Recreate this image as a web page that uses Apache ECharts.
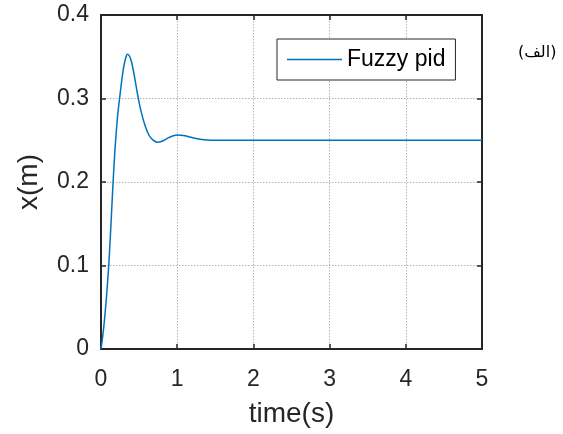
<!DOCTYPE html>
<html>
<head>
<meta charset="utf-8">
<script src="https://cdn.jsdelivr.net/npm/echarts@6/dist/echarts.min.js"></script>
<style>
  html, body { margin: 0; padding: 0; background: #fff; }
  #chart { width: 563px; height: 434px; }
</style>
</head>
<body>
<div id="chart"></div>
<script>
// Step response of the fuzzy PID controller: position x (m) over time (s)
const timeS = [0, 0.025, 0.05, 0.075, 0.1, 0.12, 0.14, 0.16, 0.18, 0.2, 0.22, 0.245, 0.27, 0.295, 0.32, 0.345,
  0.37, 0.4, 0.44, 0.486, 0.53, 0.58, 0.63, 0.68, 0.74, 0.8, 0.87, 0.94, 1.01, 1.08, 1.15, 1.22, 1.3, 1.4, 1.5,
  2, 2.5, 3, 3.5, 4, 4.5, 5];
const posM = [0, 0.017, 0.039, 0.066, 0.098, 0.13, 0.166, 0.202, 0.234, 0.26, 0.281, 0.301, 0.32, 0.336, 0.347, 0.353,
  0.3515, 0.344, 0.326, 0.302, 0.283, 0.267, 0.256, 0.2505, 0.2477, 0.2488, 0.2523, 0.2552, 0.2562, 0.2557, 0.2543, 0.2526, 0.2512, 0.2503, 0.25,
  0.25, 0.25, 0.25, 0.25, 0.25, 0.25, 0.25];

const seriesName = 'Fuzzy pid';
const xTicks = { min: 0, max: 5, interval: 1 };
const yTicks = { min: 0, max: 0.4, interval: 0.1 };
const xTitle = 'time(s)';
const yTitle = 'x(m)';
const panelTag = '(الف)';

const ink = '#262626';
const lineColor = '#0072BD';
const axisLine = { show: true, onZero: false, lineStyle: { color: ink, width: 2 } };
const tick = { show: true, inside: true, length: 5, lineStyle: { color: ink, width: 1.5 } };
const grid = { show: true, lineStyle: { color: '#b4b4b4', width: 1, type: [1.5, 1.5] } };
const sans = 'Liberation Sans, Arial, sans-serif';
const tickFont = { fontFamily: sans, fontSize: 23, color: ink };
const titleFont = { fontFamily: sans, fontSize: 28, color: ink };

const chart = echarts.init(document.getElementById('chart'), null, { renderer: 'canvas' });
chart.setOption({
  animation: false,
  backgroundColor: '#fff',
  grid: { left: 101, top: 15, right: 81, bottom: 85, containLabel: false },
  legend: {
    data: [{ name: seriesName, icon: 'rect' }],
    left: 277, top: 39,
    padding: [9, 10, 9, 10],
    itemWidth: 55, itemHeight: 1.5,
    itemStyle: { color: lineColor, borderWidth: 0 },
    borderColor: ink, borderWidth: 1, backgroundColor: '#fff', borderRadius: 0,
    textStyle: { fontFamily: sans, fontSize: 23, color: '#000', lineHeight: 22 }
  },
  xAxis: [
    Object.assign({ type: 'value', position: 'bottom', axisLine, axisTick: tick, splitLine: grid,
      axisLabel: Object.assign({ margin: 19 }, tickFont),
      name: xTitle, nameLocation: 'middle', nameGap: 51, nameTextStyle: titleFont }, xTicks),
    Object.assign({ type: 'value', position: 'top', axisLine, axisTick: tick, splitLine: { show: false },
      axisLabel: { show: false } }, xTicks)
  ],
  yAxis: [
    Object.assign({ type: 'value', position: 'left', axisLine, axisTick: tick, splitLine: grid,
      axisLabel: Object.assign({ margin: 12, padding: [4, 0, 0, 0] }, tickFont),
      name: yTitle, nameLocation: 'middle', nameGap: 58, nameTextStyle: titleFont }, yTicks),
    Object.assign({ type: 'value', position: 'right', axisLine, axisTick: tick, splitLine: { show: false },
      axisLabel: { show: false } }, yTicks)
  ],
  series: [{
    name: seriesName,
    type: 'line',
    xAxisIndex: 0, yAxisIndex: 0,
    data: timeS.map((t, i) => [t, posM[i]]),
    smooth: 0.3,
    symbol: 'none',
    lineStyle: { color: lineColor, width: 1.5 },
    itemStyle: { color: lineColor }
  }],
  graphic: [{
    type: 'text',
    left: 518, top: 45,
    style: { text: panelTag, font: '16px "DejaVu Sans", "Noto Sans", sans-serif', fill: '#000' }
  }]
});
</script>
</body>
</html>
